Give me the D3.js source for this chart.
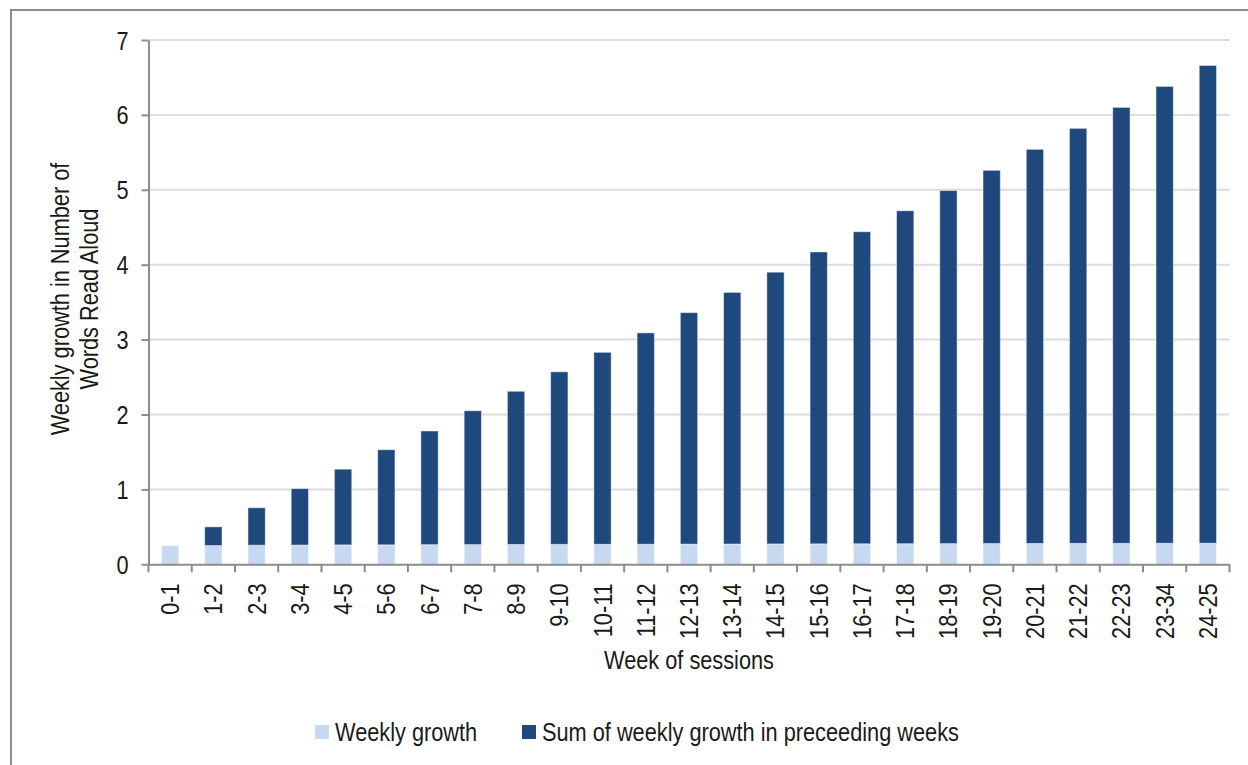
<!DOCTYPE html>
<meta charset="utf-8">
<script src="https://d3js.org/d3.v7.min.js"></script>
<style>
  body { margin: 0; background: #fff; }
  svg text { font-family: "Liberation Sans", Arial, sans-serif; fill: #1a1a1a; font-size: 25px; }
</style>
<div id="my_dataviz"></div>
<script>

// week ranges on the x axis
var weeks = ["0-1", "1-2", "2-3", "3-4", "4-5", "5-6", "6-7", "7-8", "8-9", "9-10",
  "10-11", "11-12", "12-13", "13-14", "14-15", "15-16", "16-17", "17-18", "18-19",
  "19-20", "20-21", "21-22", "22-23", "23-34", "24-25"];

// light part of each bar
var weeklyGrowth = [0.25, 0.25, 0.255, 0.257, 0.259, 0.26, 0.262, 0.263, 0.265, 0.266,
  0.267, 0.268, 0.27, 0.271, 0.272, 0.273, 0.274, 0.275, 0.276, 0.277,
  0.278, 0.279, 0.28, 0.281, 0.282];

// dark part stacked on top
var sumPreceeding = [0, 0.25, 0.5, 0.753, 1.011, 1.27, 1.518, 1.787, 2.045, 2.304,
  2.563, 2.822, 3.09, 3.359, 3.628, 3.897, 4.166, 4.445, 4.714, 4.983,
  5.262, 5.541, 5.82, 6.099, 6.378];

var yTicks = [0, 1, 2, 3, 4, 5, 6, 7];

var seriesNames = ["Weekly growth", "Sum of weekly growth in preceeding weeks"];
var seriesColors = ["#c6d9f1", "#1f497d"];

var width = 1248, height = 765;
var margin = {top: 40, right: 18.5, bottom: 200.7, left: 148.5};
var narrow = 0.87; // squeeze Liberation Sans to look like Arial Narrow

var svg = d3.select("#my_dataviz")
  .append("svg")
  .attr("width", width)
  .attr("height", height);

// outer chart border
svg.append("rect")
  .attr("x", 11).attr("y", 10)
  .attr("width", 1260).attr("height", 800)
  .attr("fill", "none")
  .attr("stroke", "#8c8c8c")
  .attr("stroke-width", 2);

var x = d3.scaleBand()
  .domain(weeks)
  .range([margin.left, width - margin.right])
  .paddingInner(0.6)
  .paddingOuter(0.3);

var y = d3.scaleLinear()
  .domain([0, 7])
  .range([height - margin.bottom, margin.top]);

// gridlines
svg.append("g")
  .selectAll("line")
  .data(yTicks.slice(1))
  .enter().append("line")
  .attr("x1", margin.left)
  .attr("x2", width - margin.right)
  .attr("y1", function(d) { return y(d); })
  .attr("y2", function(d) { return y(d); })
  .attr("stroke", "#dcdcdc")
  .attr("stroke-width", 2);

// build stacked rows
var rows = weeks.map(function(w, i) {
  return {week: w, weekly: weeklyGrowth[i], sum: sumPreceeding[i]};
});
var stack = d3.stack().keys(["weekly", "sum"]);
var layers = stack(rows);

svg.append("g")
  .selectAll("g")
  .data(layers)
  .enter().append("g")
  .attr("fill", function(d, i) { return seriesColors[i]; })
  .selectAll("rect")
  .data(function(d) { return d.filter(function(s) { return s[1] - s[0] > 0; }); })
  .enter().append("rect")
  .attr("x", function(d) { return x(d.data.week); })
  .attr("y", function(d) { return y(d[1]); })
  .attr("width", x.bandwidth())
  .attr("height", function(d) { return y(d[0]) - y(d[1]); })
  .attr("stroke", "#ffffff")
  .attr("stroke-opacity", 0.45)
  .attr("stroke-width", 1);

// y axis
var yAxis = svg.append("g")
  .attr("transform", "translate(" + margin.left + ",0)")
  .call(d3.axisLeft(y).tickValues(yTicks).tickFormat(d3.format("d")).tickSize(7).tickSizeOuter(0));
yAxis.selectAll("text")
  .attr("x", -20 / narrow)
  .attr("dy", "0.36em")
  .attr("transform", "scale(" + narrow + ",1)");

// x axis
var xAxis = svg.append("g")
  .attr("transform", "translate(0," + y(0) + ")")
  .call(d3.axisBottom(x).tickSize(0).tickSizeOuter(0));
xAxis.selectAll("text")
  .style("text-anchor", "end")
  .attr("transform", "rotate(-90) scale(" + narrow + ",1)")
  .attr("x", -19 / narrow)
  .attr("y", 0)
  .attr("dy", "0.36em");

// x ticks sit on band boundaries
svg.append("g")
  .selectAll("line")
  .data(weeks.concat(["end"]))
  .enter().append("line")
  .attr("x1", function(d, i) { return margin.left + i * x.step(); })
  .attr("x2", function(d, i) { return margin.left + i * x.step(); })
  .attr("y1", y(0))
  .attr("y2", y(0) + 8)
  .attr("stroke", "#8c8c8c")
  .attr("stroke-width", 2);

svg.selectAll(".domain").attr("stroke", "#8c8c8c").attr("stroke-width", 2);
yAxis.selectAll(".tick line").attr("stroke", "#8c8c8c").attr("stroke-width", 2);

// axis titles
svg.append("text")
  .attr("transform", "translate(" + ((margin.left + width - margin.right) / 2) + ",669) scale(" + narrow + ",1)")
  .attr("text-anchor", "middle")
  .text("Week of sessions");

var yTitle = svg.append("text")
  .attr("transform", "translate(69,299) rotate(-90) scale(" + narrow + ",1)")
  .attr("text-anchor", "middle");
yTitle.append("tspan").attr("x", 0).attr("dy", 0).text("Weekly growth in Number of");
yTitle.append("tspan").attr("x", 0).attr("dy", 29).text("Words Read Aloud");

// legend
var legendX = [315, 522];
var legend = svg.append("g")
  .selectAll("g")
  .data(seriesNames)
  .enter().append("g")
  .attr("transform", function(d, i) { return "translate(" + legendX[i] + ",725)"; });
legend.append("rect")
  .attr("width", 14).attr("height", 14)
  .attr("fill", function(d, i) { return seriesColors[i]; });
legend.append("text")
  .attr("transform", "translate(20,16) scale(" + narrow + ",1)")
  .text(function(d) { return d; });

</script>
